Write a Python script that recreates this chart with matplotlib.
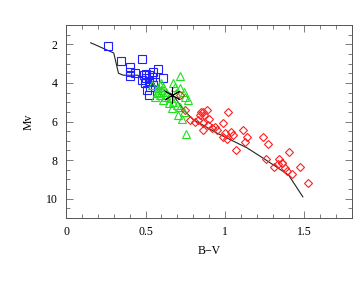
import numpy as np
from matplotlib import pyplot as plt

# 画出 B-V / Mv 赫罗图
plt.rcParams['font.family'] = ['Liberation Serif', 'DejaVu Serif']

# 主序线
line_bv = [0.155, 0.30, 0.33, 0.36, 0.45, 0.55, 0.67, 0.74, 0.80, 0.95, 1.14, 1.25, 1.40, 1.49]
line_mv = [1.92, 2.45, 3.50, 3.60, 3.60, 4.10, 4.60, 5.40, 5.90, 6.60, 7.37, 7.95, 8.77, 9.90]

# 蓝色方块
blue_bv = [0.262, 0.344, 0.48, 0.40, 0.40, 0.434, 0.40, 0.50, 0.50, 0.52, 0.545, 0.58, 0.61,
           0.476, 0.497, 0.52, 0.54, 0.528, 0.507, 0.55, 0.524, 0.49, 0.56]
blue_mv = [2.09, 2.87, 2.78, 3.19, 3.42, 3.47, 3.63, 3.55, 3.72, 3.59, 3.42, 3.30, 3.76,
           3.85, 4.02, 3.90, 3.68, 4.20, 4.37, 4.10, 4.63, 3.60, 3.95]

# 绿色三角
green_bv = [0.717, 0.60, 0.54, 0.58, 0.61, 0.63, 0.57, 0.59, 0.56, 0.62, 0.654, 0.61, 0.717,
            0.74, 0.75, 0.77, 0.675, 0.70, 0.717, 0.665, 0.74, 0.706, 0.73, 0.755, 0.675,
            0.69, 0.686, 0.59, 0.63, 0.65, 0.60, 0.58]
green_mv = [3.64, 4.02, 4.10, 4.28, 4.20, 4.45, 4.54, 4.63, 4.71, 4.71, 4.80, 4.89, 4.28,
            4.45, 4.71, 4.89, 4.97, 5.15, 5.23, 5.32, 5.49, 5.66, 5.89, 6.66, 4.02,
            4.54, 4.20, 4.10, 4.60, 5.05, 4.35, 4.45]

# 红色菱形
red_bv = [0.72, 0.75, 0.85, 0.86, 0.885, 0.843, 0.87, 1.02, 0.78, 0.81, 0.83, 0.86, 0.90,
          0.895, 0.99, 0.86, 0.916, 0.95, 0.94, 1.00, 1.04, 1.05, 1.115, 1.136, 1.126,
          1.07, 1.24, 1.27, 1.01, 0.99, 1.26, 1.40, 1.34, 1.356, 1.31, 1.38, 1.39, 1.42,
          1.47, 1.52, 1.335, 1.36]
red_mv = [4.63, 5.40, 5.49, 5.49, 5.40, 5.66, 5.66, 5.49, 5.92, 6.00, 5.92, 6.09, 5.89,
          6.18, 6.06, 6.44, 6.35, 6.44, 6.27, 6.61, 6.53, 6.70, 6.44, 6.82, 7.04,
          7.50, 6.79, 7.17, 6.92, 6.82, 7.96, 7.56, 7.96, 8.17, 8.38, 8.43, 8.55, 8.72,
          8.38, 9.20, 8.20, 8.13]

# 星号位置
star_bv = [0.665]
star_mv = [4.60]

fig = plt.figure(figsize=(3.63, 2.81), dpi=100)
ax = fig.add_axes([0.182, 0.224, 0.788, 0.687])

ax.plot(line_bv, line_mv, color='#222222', lw=0.8)
ax.plot(blue_bv, blue_mv, ls='none', marker='s', ms=5.3, mfc='none', mec='#2020ff', mew=0.8)
ax.plot(green_bv, green_mv, ls='none', marker='^', ms=5.5, mfc='none', mec='#20e020', mew=0.8)
ax.plot(red_bv, red_mv, ls='none', marker='D', ms=4, mfc='none', mec='#ff2020', mew=0.8)
ax.plot(star_bv, star_mv, ls='none', marker=(6, 2, 0), ms=12, mec='black', mew=0.6)

ax.set_xlim(0, 1.8)
ax.set_ylim(11, 1)
ax.set_xticks([0, 0.5, 1, 1.5])
ax.set_xticklabels(['0', '0.5', '1', '1.5'])
ax.set_xticks(np.arange(0, 1.81, 0.1), minor=True)
ax.set_yticks([2, 4, 6, 8, 10])
ax.set_yticks(np.arange(1, 11.01, 0.5), minor=True)
ax.tick_params(which='both', direction='in', top=True, right=True, labelsize=8.5,
               color='#666666', width=0.6)
ax.tick_params(which='major', length=5, pad=6)
ax.tick_params(which='minor', length=3)
for s in ax.spines.values():
    s.set_color('#555555')
    s.set_linewidth(0.7)

ax.set_xlabel('B\u2212V', fontsize=8.5, labelpad=5)
ax.set_ylabel('Mv', fontsize=8.5, labelpad=8)

fig.savefig('out.png', dpi=100)
